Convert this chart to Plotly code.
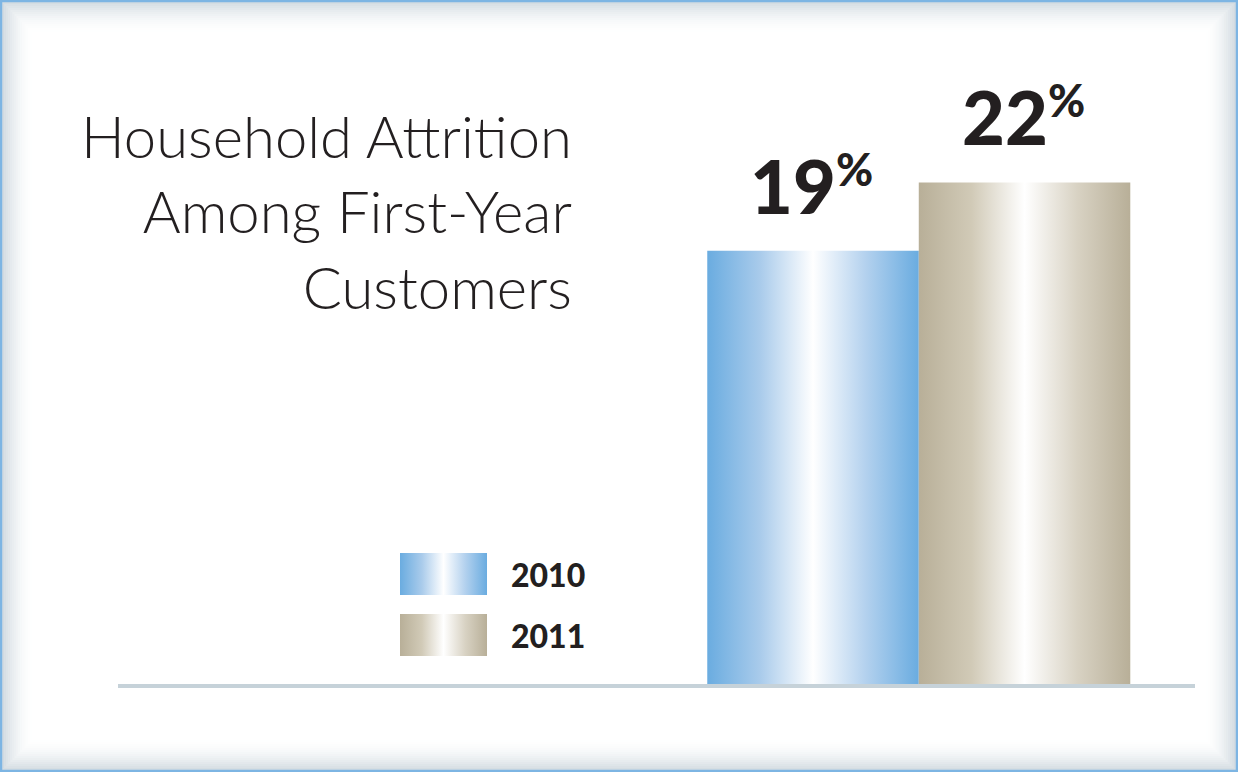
import plotly.graph_objects as go

# --- data -------------------------------------------------------------
years = ["2010", "2011"]
attrition_pct = [19, 22]
title_lines = ["Household Attrition", "Among First-Year", "Customers"]

# metallic horizontal gradients for each year
gradients = {
    "2010": [[0, "#6aace0"], [0.25, "#a9cbeb"], [0.5, "#ffffff"], [0.75, "#b3d1ee"], [1, "#6aace0"]],
    "2011": [[0, "#b8af98"], [0.25, "#d1cab7"], [0.5, "#ffffff"], [0.75, "#d8d2c3"], [1, "#b8af98"]],
}

# --- canvas geometry -------------------------------------------------
W, H = 1238, 772
M_L, M_R, M_T, M_B = 118, 43, 60, 88
PLOT_W = W - M_L - M_R
PLOT_H = H - M_T - M_B


def paper_x(px):
    return (px - M_L) / PLOT_W


def paper_y(py):
    return (H - M_B - py) / PLOT_H


INK = "#231f20"
BAR_W = 1.0
LABEL_SIZE = 74
PCT_SIZE = 45

fig = go.Figure()

# bars drawn as filled polygons so they can carry a gradient
for i, (yr, v) in enumerate(zip(years, attrition_pct)):
    x0, x1 = i - BAR_W / 2, i + BAR_W / 2
    fig.add_trace(go.Scatter(
        x=[x0, x0, x1, x1, x0], y=[0, v, v, 0, 0],
        mode="lines", fill="toself", line=dict(width=0),
        fillgradient=dict(type="horizontal", colorscale=gradients[yr]),
        name=yr, showlegend=False, hoverinfo="skip",
    ))
    # value label: number plus a raised, smaller percent sign
    fig.add_annotation(
        x=i, y=v, xref="x", yref="y", xanchor="right", yanchor="bottom",
        xshift=25, yshift=19, showarrow=False, text=str(v),
        font=dict(family="Lato", size=LABEL_SIZE, color=INK, weight=900),
    )
    fig.add_annotation(
        x=i, y=v, xref="x", yref="y", xanchor="left", yanchor="bottom",
        xshift=21, yshift=53, showarrow=False, text="%",
        font=dict(family="Lato", size=PCT_SIZE, color=INK, weight=900),
    )

# legend swatches on a pixel-scaled overlay
SW_X0, SW_X1, SW_H = 400, 487, 42
rows_top = [553, 614]
for yr, top in zip(years, rows_top):
    fig.add_trace(go.Scatter(
        x=[SW_X0, SW_X0, SW_X1, SW_X1, SW_X0], y=[top + SW_H, top, top, top + SW_H, top + SW_H],
        xaxis="x2", yaxis="y2",
        mode="lines", fill="toself", line=dict(width=0),
        fillgradient=dict(type="horizontal", colorscale=gradients[yr]),
        showlegend=False, hoverinfo="skip",
    ))
    fig.add_annotation(
        x=509, y=top + SW_H / 2, xref="x2", yref="y2", xanchor="left", yanchor="middle",
        showarrow=False, text=yr,
        font=dict(family="Lato", size=32, color=INK, weight=900),
    )

# title block
fig.add_annotation(
    x=paper_x(574), y=paper_y(99), xref="paper", yref="paper",
    xanchor="right", yanchor="top", align="right", showarrow=False,
    text="<br>".join(title_lines),
    font=dict(family="Lato", size=58, color=INK, weight=300),
)

# soft inner shadow of the frame
shapes = []
N = 16
for k in range(N):
    inset = 3 + k * 2
    a = 0.6 * (1 - k / N) ** 2
    shapes.append(dict(
        type="rect", xref="paper", yref="paper",
        x0=paper_x(inset), x1=paper_x(W - inset), y0=paper_y(H - inset), y1=paper_y(inset),
        line=dict(color=f"rgba(184,198,207,{a:.3f})", width=2.2), fillcolor="rgba(0,0,0,0)",
        layer="below",
    ))
shapes.append(dict(
    type="rect", xref="paper", yref="paper",
    x0=paper_x(1), x1=paper_x(W - 1), y0=paper_y(H - 1), y1=paper_y(1),
    line=dict(color="#7db5e3", width=2.5), fillcolor="rgba(0,0,0,0)", layer="above",
))

fig.update_layout(
    width=W, height=H,
    margin=dict(l=M_L, r=M_R, t=M_T, b=M_B, pad=0),
    paper_bgcolor="white", plot_bgcolor="rgba(0,0,0,0)",
    shapes=shapes,
    xaxis=dict(range=[-3.286, 1.806], showgrid=False, zeroline=False, showticklabels=False,
               ticks="", showline=True, linecolor="#c6d2d9", linewidth=4, fixedrange=True),
    yaxis=dict(range=[0, 27.37], visible=False, fixedrange=True),
    xaxis2=dict(range=[M_L, W - M_R], overlaying="x", anchor="y2", visible=False, fixedrange=True),
    yaxis2=dict(range=[H - M_B, M_T], overlaying="y", anchor="x2", visible=False, fixedrange=True),
    showlegend=False,
)

fig.write_html("out.html")
